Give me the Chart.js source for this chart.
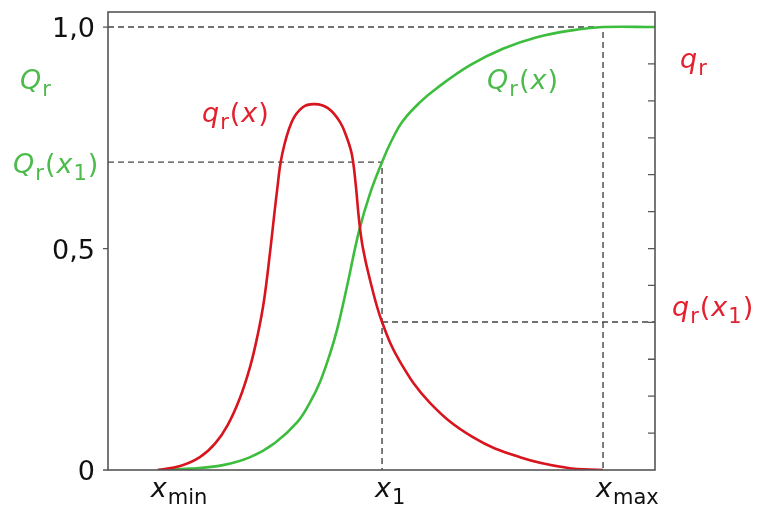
<!DOCTYPE html>
<html lang="de">
<head>
    <meta charset="UTF-8">
    <title>Verteilungsdichte und Verteilungssumme</title>
    <script src="https://cdn.jsdelivr.net/npm/chart.js"></script>
    <style>
        body { margin: 0; background: #fff; }
        canvas { display: block; }
    </style>
</head>
<body>
    <canvas id="chart" width="758" height="510"></canvas>

    <script>
        // q_r(x) - Dichteverteilung (rot)
        const qX = [9.1, 13.2, 16.8, 19.6, 21.9, 24.1, 26.0, 27.4, 28.5, 29.6, 30.9, 31.8, 33.6, 35.6, 37.8, 40.2, 42.4, 43.7, 44.6, 45.3, 45.9, 46.6, 47.9, 50.1, 53.4, 58.9, 66.7, 75.3, 83.9, 90.5];
        const qY = [0, 0.009, 0.029, 0.060, 0.102, 0.162, 0.234, 0.307, 0.381, 0.489, 0.630, 0.710, 0.786, 0.819, 0.826, 0.817, 0.786, 0.749, 0.711, 0.643, 0.564, 0.501, 0.429, 0.334, 0.244, 0.151, 0.074, 0.029, 0.005, 0];

        // Q_r(x) - Summenverteilung (gruen)
        const QX = [9.1, 15.0, 21.0, 26.0, 30.5, 34.6, 36.9, 38.8, 40.6, 41.9, 43.7, 45.9, 47.9, 50.1, 51.9, 53.9, 57.0, 60.1, 66.2, 72.2, 78.4, 84.5, 90.5, 100];
        const QY = [0, 0.003, 0.011, 0.029, 0.061, 0.108, 0.152, 0.200, 0.263, 0.318, 0.415, 0.540, 0.624, 0.695, 0.745, 0.788, 0.830, 0.862, 0.914, 0.951, 0.977, 0.992, 1.0, 1.0];

        // Markierungen
        const xMin = 9.1, x1 = 50.1, xMax = 90.5;
        const Qx1 = 0.695, qx1 = 0.334;
        const leftTicks = [0, 0.5, 1.0];
        const leftTickLabels = ['0', '0,5', '1,0'];
        const rightTickCount = 12;

        const RED = '#d8141e', RED_TXT = '#e2202e';
        const GREEN = '#3dbd3d', GREEN_TXT = '#4cbb4c';
        const DASH = '#444';

        const pts = (xs, ys) => xs.map((x, i) => ({ x: x, y: ys[i] }));

        function dashed(points) {
            return {
                data: points,
                borderColor: DASH,
                borderWidth: 1.4,
                borderDash: [6, 4],
                pointRadius: 0,
                tension: 0,
                order: 2
            };
        }

        // Text mit Index, z.B. Q_r(x_1)
        function rich(ctx, x, y, parts, color) {
            let cx = x;
            parts.forEach(([txt, kind]) => {
                const sub = kind.includes('s');
                const it = kind.includes('i');
                ctx.font = (it ? 'italic ' : '') + (sub ? 21 : 27) + 'px "DejaVu Sans"';
                ctx.fillStyle = color;
                ctx.fillText(txt, cx, y + (sub ? 7 : 0));
                cx += ctx.measureText(txt).width + 1;
            });
        }

        const decor = {
            id: 'decor',
            afterDraw(chart) {
                const ctx = chart.ctx;
                const xs = chart.scales.x, ys = chart.scales.y;
                const a = chart.chartArea;
                ctx.save();

                // Rahmen
                ctx.strokeStyle = '#555';
                ctx.lineWidth = 1.6;
                ctx.strokeRect(a.left, a.top, a.right - a.left, a.bottom - a.top);

                // Striche links (aussen) und rechts (innen)
                ctx.lineWidth = 1.3;
                ctx.beginPath();
                leftTicks.forEach(v => {
                    const py = ys.getPixelForValue(v);
                    ctx.moveTo(a.left - 5, py); ctx.lineTo(a.left, py);
                });
                for (let k = 1; k < rightTickCount; k++) {
                    const py = ys.getPixelForValue(k / rightTickCount);
                    ctx.moveTo(a.right - 7, py); ctx.lineTo(a.right, py);
                }
                ctx.stroke();

                // Achsbeschriftung links
                ctx.font = '27px "DejaVu Sans"';
                ctx.fillStyle = '#111';
                ctx.textAlign = 'right';
                leftTicks.forEach((v, i) => {
                    ctx.fillText(leftTickLabels[i], a.left - 13, ys.getPixelForValue(v) + 10);
                });
                ctx.textAlign = 'left';

                // x-Beschriftung
                const xl = [[xMin, 'min'], [x1, '1'], [xMax, 'max']];
                xl.forEach(([v, s]) => {
                    const px = xs.getPixelForValue(v);
                    rich(ctx, px - 7, a.bottom + 27, [['x', 'i'], [s, 's']], '#111');
                });

                // Kurvenbeschriftungen
                rich(ctx, 20, ys.getPixelForValue(0.86), [['Q', 'i'], ['r', 's']], GREEN_TXT);
                rich(ctx, 13, ys.getPixelForValue(Qx1) + 11, [['Q', 'i'], ['r', 's'], ['(', 'n'], ['x', 'i'], ['1', 's'], [')', 'n']], GREEN_TXT);
                rich(ctx, 487, ys.getPixelForValue(0.86), [['Q', 'i'], ['r', 's'], ['(', 'n'], ['x', 'i'], [')', 'n']], GREEN_TXT);
                rich(ctx, 202, ys.getPixelForValue(0.785), [['q', 'i'], ['r', 's'], ['(', 'n'], ['x', 'i'], [')', 'n']], RED_TXT);
                rich(ctx, 680, ys.getPixelForValue(0.907), [['q', 'i'], ['r', 's']], RED_TXT);
                rich(ctx, 672, ys.getPixelForValue(qx1) - 6, [['q', 'i'], ['r', 's'], ['(', 'n'], ['x', 'i'], ['1', 's'], [')', 'n']], RED_TXT);

                ctx.restore();
            }
        };

        new Chart(document.getElementById('chart'), {
            type: 'line',
            data: {
                datasets: [
                    {
                        data: pts(qX, qY),
                        borderColor: RED,
                        borderWidth: 2.6,
                        pointRadius: 0,
                        tension: 0.4,
                        order: 0
                    },
                    {
                        data: pts(QX, QY),
                        borderColor: GREEN,
                        borderWidth: 2.6,
                        pointRadius: 0,
                        tension: 0.4,
                        order: 1
                    },
                    dashed([{ x: 0, y: 1 }, { x: xMax, y: 1 }, { x: xMax, y: 0 }]),
                    dashed([{ x: 0, y: Qx1 }, { x: x1, y: Qx1 }, { x: x1, y: 0 }]),
                    dashed([{ x: x1, y: qx1 }, { x: 100, y: qx1 }])
                ]
            },
            options: {
                responsive: false,
                animation: false,
                layout: { padding: { left: 108, right: 103, top: 12, bottom: 40 } },
                plugins: { legend: { display: false }, tooltip: { enabled: false } },
                scales: {
                    x: { type: 'linear', min: 0, max: 100, display: false },
                    y: { type: 'linear', min: 0, max: 1.034, display: false }
                }
            },
            plugins: [decor]
        });
    </script>
</body>
</html>
